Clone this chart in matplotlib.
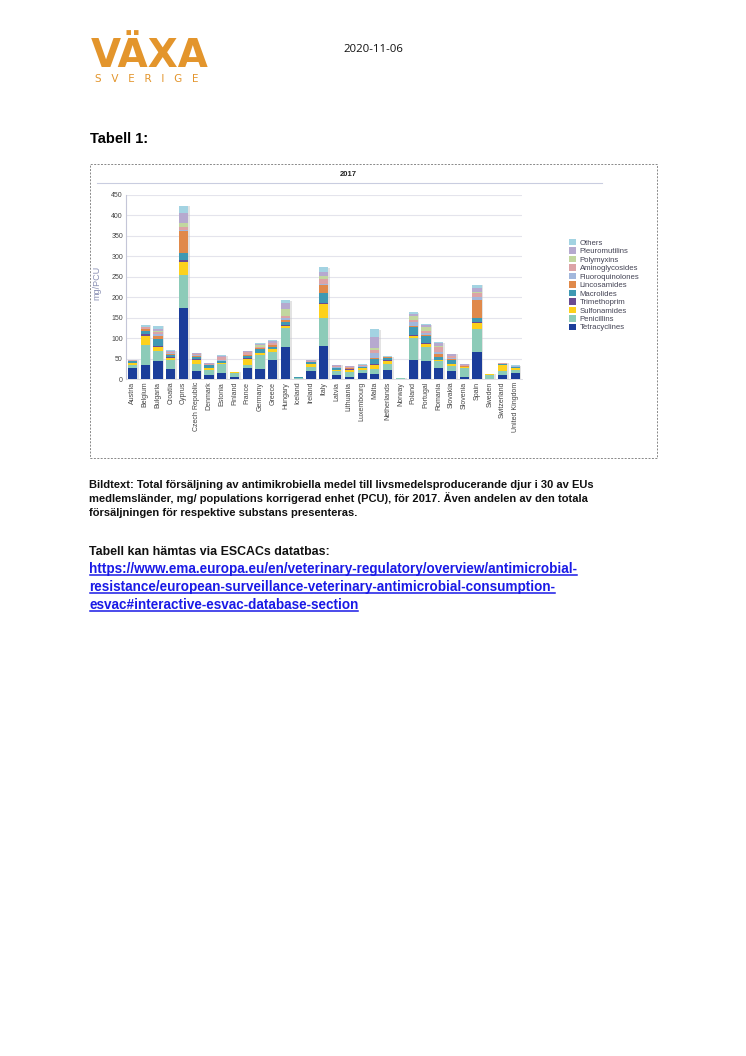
import numpy as np
import matplotlib
matplotlib.use("Agg")
import matplotlib.pyplot as plt
from matplotlib.lines import Line2D
from matplotlib.patches import Rectangle, Patch

countries = ["Austria", "Belgium", "Bulgaria", "Croatia", "Cyprus", "Czech Republic",
             "Denmark", "Estonia", "Finland", "France", "Germany", "Greece", "Hungary",
             "Iceland", "Ireland", "Italy", "Latvia", "Lithuania", "Luxembourg", "Malta",
             "Netherlands", "Norway", "Poland", "Portugal", "Romania", "Slovakia",
             "Slovenia", "Spain", "Sweden", "Switzerland", "United Kingdom"]

classes = ["Tetracyclines", "Penicillins", "Sulfonamides", "Trimethoprim", "Macrolides",
           "Lincosamides", "Fluoroquinolones", "Aminoglycosides", "Polymyxins",
           "Pleuromutilins", "Others"]

tetracyclines = [26, 34, 44, 24, 174, 19, 9, 14, 4, 27, 24, 47, 78, 0.3, 19, 80, 9, 5, 14, 12,
                 22, 0.3, 47, 44, 26, 20, 4, 65, 1, 10, 14]
penicillins = [8, 50, 25, 23, 81, 17, 14, 22, 10, 8, 34, 18, 46, 3, 10, 70, 11, 13, 8, 12,
               15, 2.5, 54, 35, 18, 11, 23, 56, 9, 10, 9]
sulfonamides = [5, 21, 9, 5, 30, 11, 4, 3, 2.5, 14, 5, 8, 6, 0.2, 7, 34, 2, 5, 4, 10,
                8, 0.1, 5, 6, 2, 5, 2, 15, 1, 13, 3]
trimethoprim = [1, 4, 2, 1, 5, 2, 1, 1, 0.5, 3, 1, 1, 2, 0, 1, 2, 0.5, 0.5, 1, 2,
                1, 0, 2, 2, 1, 1, 0.5, 4, 0.2, 1, 1]
macrolides = [3, 8, 17, 6, 18, 5, 5, 3, 0, 5, 9, 5, 8, 0.2, 4, 25, 4, 2, 2, 13,
              6, 0.1, 19, 18, 6, 9, 1, 10, 0.3, 2, 3]
lincosamides = [1, 5, 9, 2, 54, 2, 1, 2, 0, 1, 2, 3, 4, 0, 0.5, 19, 1, 1.5, 1, 2,
                0.5, 0, 3, 3, 8, 2, 1, 44, 0, 0.5, 0.5]
fluoroquinolones = [0.5, 1, 5, 3, 3, 2, 0.3, 2, 0, 1, 1, 2, 6, 0, 0.5, 3, 2, 1, 2, 12,
                    0.5, 0, 8, 5, 5, 4, 1, 5, 0, 0.5, 0.3]
aminoglycosides = [1, 3, 4, 2, 7, 3, 2, 6, 0, 6, 3, 3, 5, 0.2, 2, 12, 2, 1.5, 2, 8,
                   0.5, 0.1, 6, 4, 11, 3, 2, 10, 0.3, 1.5, 1]
polymyxins = [0.5, 1, 3, 1, 9, 1, 0.5, 1, 0, 2, 5, 1, 15, 0, 0.5, 7, 0.5, 0.5, 0.5, 4,
              0.5, 0, 9, 10, 4, 2, 0.5, 4, 0, 0.3, 0.3]
pleuromutilins = [0.5, 1, 4, 1, 24, 1, 2, 2, 0, 1, 2, 4, 15, 0, 1, 10, 2, 2, 0.5, 28,
                  0.5, 0, 6, 5, 6, 3, 1, 10, 0.2, 0.3, 0.5]
others = [1, 5, 8, 2, 18, 1, 0.5, 2, 0.5, 1, 3, 3, 7, 0.3, 2, 11, 1, 0.5, 1, 18,
          1.5, 0.2, 4, 2, 3, 2, 1, 7, 0.5, 1, 0.5]

series = [tetracyclines, penicillins, sulfonamides, trimethoprim, macrolides, lincosamides,
          fluoroquinolones, aminoglycosides, polymyxins, pleuromutilins, others]
colors = ["#1b3d9a", "#8ccbb8", "#fdd11c", "#6a4b92", "#3f99b3", "#e0894a",
          "#a2b7dc", "#dca3a6", "#c2d79f", "#b6a9cf", "#a3d3e2"]

yticks = [0, 50, 100, 150, 200, 250, 300, 350, 400, 450]

W, H = 746, 1056
fig = plt.figure(figsize=(W / 100, H / 100), dpi=100)
plt.rcParams['font.family'] = ['Liberation Sans', 'DejaVu Sans']

def fx(px):
    return px / W

def fy(py):
    return 1 - py / H

# Logo
fig.text(fx(91), fy(67), "VÄXA", color="#e3952c", fontsize=28, fontweight="bold",
         family=["DejaVu Sans"], va="baseline", ha="left")
fig.text(fx(95), fy(82), "S   V   E   R   I   G   E", color="#e3952c", fontsize=7.5,
         family=["DejaVu Sans"], va="baseline", ha="left")

# Date
fig.text(fx(343), fy(52), "2020-11-06", fontsize=8.2, family=["Open Sans", "DejaVu Sans"],
         va="baseline", ha="left", color="#111111")

# Tabell 1
fig.text(fx(90), fy(143), "Tabell 1:", fontsize=10.5, fontweight="bold", va="baseline",
         ha="left", color="#000000")

# dashed frame
fig.add_artist(Rectangle((fx(89.5), fy(458)), fx(657) - fx(89.5), fy(164) - fy(458),
                         transform=fig.transFigure, fill=False, edgecolor="#888888",
                         linestyle=(0, (2, 1.5)), linewidth=0.7))

# chart title and line
fig.text(fx(348), fy(175), "2017", fontsize=5.5, fontweight="bold", ha="center", va="center",
         color="#222222")
fig.add_artist(Line2D([fx(97), fx(602)], [fy(183), fy(183)], transform=fig.transFigure,
                      color="#c9cde0", linewidth=0.8))

# Axes
ax = fig.add_axes([fx(125.7), fy(379), fx(522) - fx(125.7), fy(194.7) - fy(379)])
x = np.arange(len(countries))
bottom = np.zeros(len(countries))
totals = np.sum(np.array(series, dtype=float), axis=0)
ax.bar(x + 0.12, totals, width=0.72, bottom=-1.2, color="#c8c8c8", alpha=0.5, zorder=1,
       linewidth=0)
handles = []
for name, vals, col in zip(classes, series, colors):
    vals = np.array(vals, dtype=float)
    ax.bar(x, vals, width=0.72, bottom=bottom, color=col, zorder=2, linewidth=0)
    bottom += vals
    handles.append(Patch(facecolor=col, edgecolor="none", label=name))

ax.set_xlim(-0.53, len(countries) - 0.47)
ax.set_ylim(0, 450)
ax.set_yticks(yticks)
ax.set_yticklabels([str(v) for v in yticks], fontsize=5, color="#444444")
ax.set_xticks(x)
ax.set_xticklabels(countries, rotation=90, fontsize=5, color="#444444")
ax.tick_params(axis="both", length=0, pad=2)
ax.grid(axis="y", color="#e4e4ec", linewidth=0.8, zorder=0)
ax.set_axisbelow(True)
for s in ["top", "right"]:
    ax.spines[s].set_visible(False)
ax.spines["left"].set_color("#c4c6d8")
ax.spines["bottom"].set_color("#d8d8e0")
ax.spines["left"].set_linewidth(0.8)
ax.spines["bottom"].set_linewidth(0.6)

fig.text(fx(97), fy(283), "mg/PCU", rotation=90, fontsize=6.5, color="#8a90b4",
         ha="center", va="center")

leg = fig.legend(handles=handles[::-1], loc="upper left",
                 bbox_to_anchor=(fx(569), fy(239)), frameon=False, fontsize=5.6,
                 handlelength=0.95, handleheight=0.9, handletextpad=0.4,
                 labelspacing=0.07, borderaxespad=0, borderpad=0)
for t in leg.get_texts():
    t.set_color("#444455")

# Caption
cap = ["Bildtext: Total försäljning av antimikrobiella medel till livsmedelsproducerande djur i 30 av EUs",
       "medlemsländer, mg/ populations korrigerad enhet (PCU), för 2017. Även andelen av den totala",
       "försäljningen för respektive substans presenteras."]
for i, line in enumerate(cap):
    fig.text(fx(89), fy(488 + i * 14), line, fontsize=8.0, fontweight="bold",
             va="baseline", ha="left", color="#111111")

fig.text(fx(89), fy(555), "Tabell kan hämtas via ESCACs datatbas:", fontsize=8.9,
         fontweight="bold", va="baseline", ha="left", color="#111111")

links = ["https://www.ema.europa.eu/en/veterinary-regulatory/overview/antimicrobial-",
         "resistance/european-surveillance-veterinary-antimicrobial-consumption-",
         "esvac#interactive-esvac-database-section"]
fig.canvas.draw()
r = fig.canvas.get_renderer()
for i, line in enumerate(links):
    yb = 573 + i * 18
    t = fig.text(fx(89), fy(yb), line, fontsize=9.75, fontweight="bold",
                 va="baseline", ha="left", color="#1a1ae6")
    bb = t.get_window_extent(renderer=r)
    fig.add_artist(Line2D([bb.x0 / W + 0.0015, bb.x1 / W], [fy(yb + 2.2), fy(yb + 2.2)],
                          transform=fig.transFigure, color="#1a1ae6", linewidth=1.1))

fig.savefig("out.png", dpi=100)
